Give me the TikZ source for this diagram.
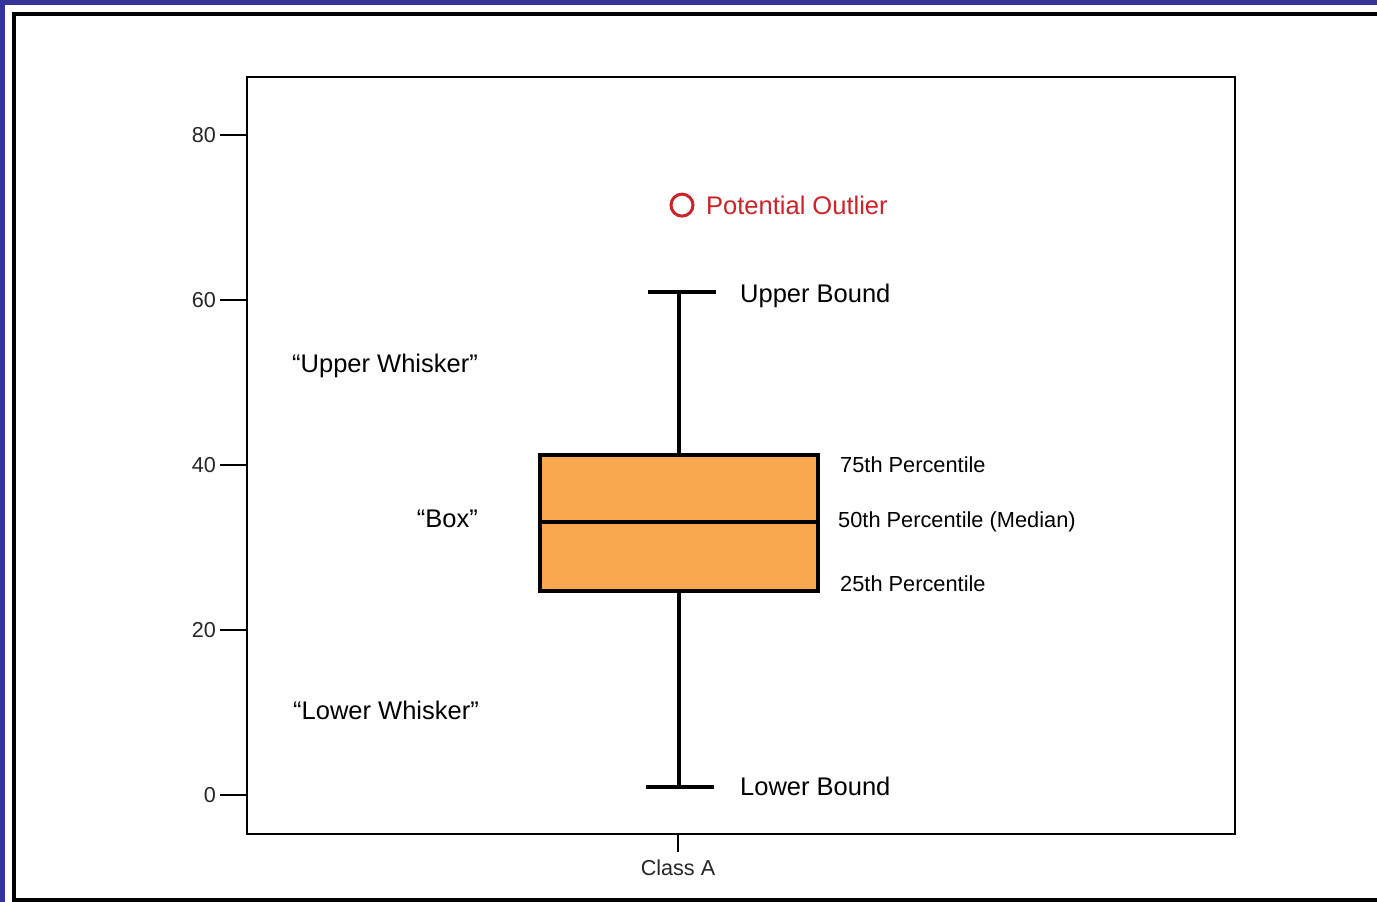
\documentclass[tikz,border=0pt]{standalone}
\usepackage{fontspec}
\setmainfont{Liberation Sans}
\definecolor{blueFrame}{HTML}{333399}
\definecolor{orangeBox}{HTML}{FAA850}
\definecolor{redOutlier}{HTML}{CC2229}
\usetikzlibrary{
  positioning
}

\begin{document}
\begin{tikzpicture}[
    x = 1pt,
    y = 1pt,
    % Frame.
    sheet/.style = {
      draw = black,
      line width = 4pt
    },
    plotFrame/.style = {
      draw = black,
      line width = 2.5pt
    },
    % Axis.
    axisTick/.style = {
      draw = black,
      line width = 2.5pt
    },
    tickLabel/.style = {
      inner sep = 0pt,
      text = black!85,
      font = \fontsize{21.6}{24}\selectfont
    },
    % Box and whiskers.
    boxPart/.style = {
      draw = black,
      line width = 4pt
    },
    % Labels.
    bigLabel/.style = {
      inner sep = 0pt,
      font = \fontsize{25.5}{30}\selectfont
    },
    smallLabel/.style = {
      inner sep = 0pt,
      font = \fontsize{21.8}{26}\selectfont
    },
    node distance = 24pt
  ]

  % Canvas.
  \useasboundingbox (0,0) rectangle (1377,902);
  \fill[blueFrame] (0,0) rectangle (1377,902);
  \fill[white] (5,0) rectangle (1377,897);
  \draw[sheet] (1377,888) -- (14,888) -- (14,2) -- (1377,2);

  % Plot frame.
  \draw[plotFrame] (247,68) rectangle (1235,825);

  \begin{scope}[yshift = 107pt, y = 8.25pt]
    % Y axis.
    \foreach \val in {0,20,...,80} {
      \draw[axisTick] (220,\val) -- (247,\val);
      \node[tickLabel, anchor = east] (tick\val) at (216,\val) {\val};
    }

    % X axis.
    \coordinate (classTop) at (678,-4.73);
    \coordinate (classBottom) at (678,-6.9);
    \draw[axisTick] (classTop) -- (classBottom);
    \node[tickLabel, below = 8pt of classBottom] (classA) {Class A};

    % Whiskers.
    \coordinate (boxTop) at (679,41.2);
    \coordinate (boxBottom) at (679,24.7);
    \coordinate (upperCap) at (679,61);
    \coordinate (lowerCap) at (679,1);
    \draw[boxPart] (boxTop) -- (upperCap);
    \draw[boxPart] (boxBottom) -- (lowerCap);
    \draw[boxPart] (648,61) -- (716,61);
    \draw[boxPart] (646,1) -- (714,1);

    % Box.
    \filldraw[boxPart, fill = orangeBox] (540,24.7) rectangle (818,41.2);
    \draw[boxPart] (540,33.1) -- (818,33.1) coordinate (medianEnd);

    % Outlier.
    \draw[redOutlier, line width = 3pt] (682,71.5) circle (11pt);
    \node[bigLabel, text = redOutlier, anchor = west] (outlier)
      at (706,71.5) {Potential Outlier};

    % Bounds.
    \node[bigLabel, anchor = west] (upperBound) at (740,60.5) {Upper Bound};
    \node[bigLabel, anchor = west] (lowerBound) at (740,1) {Lower Bound};

    % Percentiles.
    \node[smallLabel, anchor = west] (p75) at (840,40) {75th Percentile};
    \node[smallLabel, right = 20pt of medianEnd] (p50)
      {50th Percentile (Median)};
    \node[smallLabel, anchor = west] (p25) at (840,25.6) {25th Percentile};

    % Parts.
    \node[bigLabel, anchor = east] (upperWhisker) at (478,52.0)
      {“Upper Whisker”};
    \node[bigLabel, anchor = east] (boxName) at (478,33.5) {“Box”};
    \node[bigLabel, anchor = east] (lowerWhisker) at (479,10.2)
      {“Lower Whisker”};
  \end{scope}
\end{tikzpicture}
\end{document}
